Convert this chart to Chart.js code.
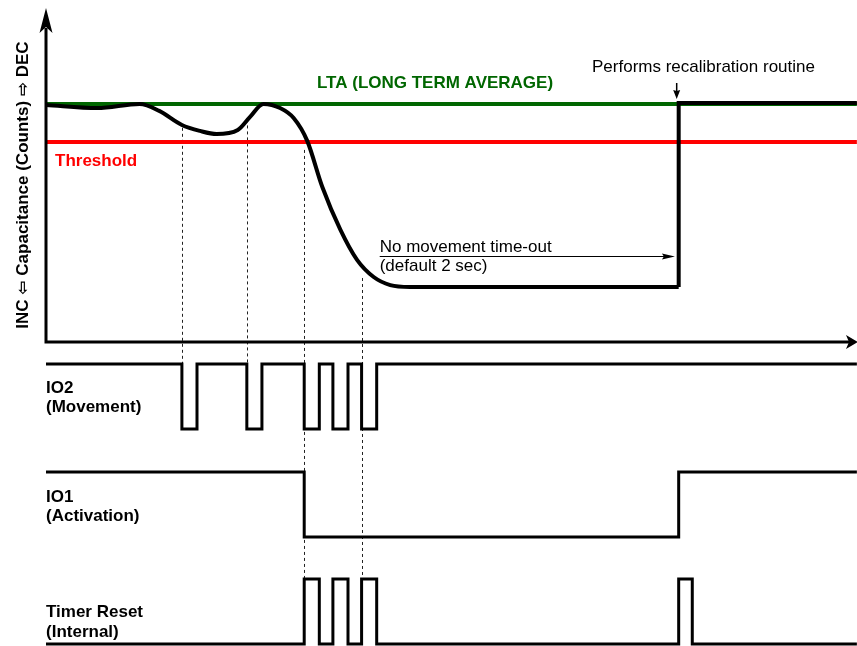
<!DOCTYPE html>
<html><head><meta charset="utf-8">
<script src="https://cdn.jsdelivr.net/npm/chart.js@4.4.1/dist/chart.umd.min.js"></script>
<style>html,body{margin:0;padding:0;background:#fff;}canvas{display:block;}</style>
</head><body>
<canvas id="c" width="857" height="646"></canvas>
<script>
// ---- data (time in seconds, t = 0 at the capacitance axis) ----
const curveTime   = [0, 0.34, 0.62, 0.75, 0.90, 1.02, 1.13, 1.27, 1.35, 1.44, 1.55, 1.64, 1.73, 1.83, 1.95, 2.06, 2.17, 2.28, 2.41, 4.19];
const curveCounts = [99.6, 98.3, 100.0, 97.1, 91.2, 88.7, 87.4, 89.1, 94.5, 100.0, 98.3, 94.1, 84.5, 65.1, 47.1, 34.5, 27.3, 23.9, 23.1, 23.1];
const recalTime = 4.19;
const recalCounts = 100.4;
const endTime = 5.37;
const ltaCounts = 100;
const thresholdCounts = 84;

const io2Times  = [0, 0.90, 1.00, 1.33, 1.43, 1.71, 1.81, 1.90, 2.00, 2.09, 2.19, 5.37];
const io2Levels = [1, 0, 1, 0, 1, 0, 1, 0, 1, 0, 1, 1];
const io1Times  = [0, 1.71, 4.19, 5.37];
const io1Levels = [1, 0, 1, 1];
const tmrTimes  = [0, 1.71, 1.81, 1.90, 2.00, 2.09, 2.19, 4.19, 4.28, 5.37];
const tmrLevels = [0, 1, 0, 1, 0, 1, 0, 1, 0, 0];

const guideTimes  = [0.90, 1.33, 1.71, 2.09];
const guideFrom   = [90, 91, 80.7, 26.9];
const guideTo     = ['io2', 'io2', 'tmr', 'tmr'];

const timeoutStart = 2.21;
const timeoutEnd = 4.165;

const yLabel = 'INC \u21E6 Capacitance (Counts) \u21E8 DEC';

// ---- layout helpers ----
const W = 857, H = 646;
function range(px0, v0, px1, v1) {
  const s = (px1 - px0) / (v1 - v0);
  return { min: v0 + (H - px0) / s, max: v0 + (0 - px0) / s };
}
const xr = { min: -46 / 151, max: (W - 46) / 151 };
const capR = range(342, 0, 104, 100);
const io2R = range(429, 0, 364, 1);
const io1R = range(537, 0, 472, 1);
const tmrR = range(644, 0, 579, 1);

const zip = (a, b) => a.map((v, i) => ({ x: v, y: b[i] }));

const FONT = '"Liberation Sans", Arial, "DejaVu Sans", sans-serif';

function arrowHead(ctx, tx, ty, dx, dy, len, hw, notch) {
  const px = -dy, py = dx;
  const bx = tx - dx * len, by = ty - dy * len;
  ctx.beginPath();
  ctx.moveTo(tx, ty);
  ctx.lineTo(bx + px * hw, by + py * hw);
  ctx.lineTo(tx - dx * (len - notch), ty - dy * (len - notch));
  ctx.lineTo(bx - px * hw, by - py * hw);
  ctx.closePath();
  ctx.fill();
}

const diagramPlugin = {
  id: 'diagram',
  beforeDatasetsDraw(chart) {
    const ctx = chart.ctx, s = chart.scales;
    ctx.save();
    ctx.strokeStyle = '#222';
    ctx.lineWidth = 1;
    ctx.setLineDash([3, 3]);
    guideTimes.forEach((t, i) => {
      const x = Math.round(s.x.getPixelForValue(t)) + 0.5;
      ctx.beginPath();
      ctx.moveTo(x, s.cap.getPixelForValue(guideFrom[i]));
      ctx.lineTo(x, s[guideTo[i]].getPixelForValue(1));
      ctx.stroke();
    });
    ctx.restore();
  },
  afterDatasetsDraw(chart) {
    const ctx = chart.ctx, s = chart.scales;
    const x0 = s.x.getPixelForValue(0);
    const y0 = s.cap.getPixelForValue(0);
    ctx.save();
    // axes
    ctx.strokeStyle = '#000';
    ctx.fillStyle = '#000';
    ctx.lineWidth = 3;
    ctx.setLineDash([]);
    ctx.beginPath();
    ctx.moveTo(x0, 28);
    ctx.lineTo(x0, y0);
    ctx.lineTo(W - 8, y0);
    ctx.stroke();
    arrowHead(ctx, x0, 8, 0, -1, 25, 6.5, 6);
    arrowHead(ctx, W + 1, y0, 1, 0, 12, 7, 3);

    // texts
    ctx.textBaseline = 'alphabetic';
    ctx.textAlign = 'left';
    const ltaY = s.cap.getPixelForValue(ltaCounts);
    const thrY = s.cap.getPixelForValue(thresholdCounts);
    ctx.font = 'bold 17px ' + FONT;
    ctx.fillStyle = '#006600';
    ctx.fillText('LTA (LONG TERM AVERAGE)', 317, ltaY - 16);
    ctx.fillStyle = '#ff0000';
    ctx.fillText('Threshold', x0 + 9, thrY + 24);

    ctx.fillStyle = '#000';
    ctx.fillText('IO2', x0, s.io2.getPixelForValue(1) + 29);
    ctx.fillText('(Movement)', x0, s.io2.getPixelForValue(1) + 48);
    ctx.fillText('IO1', x0, s.io1.getPixelForValue(1) + 30);
    ctx.fillText('(Activation)', x0, s.io1.getPixelForValue(1) + 49);
    ctx.fillText('Timer Reset', x0, s.tmr.getPixelForValue(1) + 38);
    ctx.fillText('(Internal)', x0, s.tmr.getPixelForValue(1) + 58);

    // y axis title
    ctx.save();
    ctx.translate(28, 185);
    ctx.rotate(-Math.PI / 2);
    ctx.textAlign = 'center';
    ctx.fillText(yLabel, 0, 0);
    ctx.restore();

    // recalibration annotation
    const rx = s.x.getPixelForValue(recalTime);
    ctx.font = '17px ' + FONT;
    ctx.fillText('Performs recalibration routine', 592, 72);
    ctx.lineWidth = 1.5;
    ctx.beginPath();
    ctx.moveTo(rx - 2, 83);
    ctx.lineTo(rx - 2, 96);
    ctx.stroke();
    arrowHead(ctx, rx - 2, 99, 0, 1, 9, 3.5, 1);

    // timeout annotation
    const ax0 = s.x.getPixelForValue(timeoutStart);
    const ax1 = s.x.getPixelForValue(timeoutEnd);
    const ay = 256.5;
    ctx.lineWidth = 1;
    ctx.beginPath();
    ctx.moveTo(ax0, ay);
    ctx.lineTo(ax1 - 8, ay);
    ctx.stroke();
    arrowHead(ctx, ax1, ay, 1, 0, 13, 3, 2);
    ctx.fillText('No movement time-out', ax0, ay - 5);
    ctx.fillText('(default 2 sec)', ax0, ay + 14.5);
    ctx.restore();
  }
};

const common = { pointRadius: 0, fill: false, borderJoinStyle: 'miter', borderCapStyle: 'butt' };

new Chart(document.getElementById('c'), {
  type: 'scatter',
  data: {
    datasets: [
      Object.assign({}, common, { data: zip(curveTime, curveCounts), yAxisID: 'cap', showLine: true, borderColor: '#000', borderWidth: 4, cubicInterpolationMode: 'monotone', order: 0 }),
      Object.assign({}, common, { data: [{x: recalTime, y: curveCounts[curveCounts.length - 1]}, {x: recalTime, y: recalCounts}, {x: endTime, y: recalCounts}], yAxisID: 'cap', showLine: true, borderColor: '#000', borderWidth: 4, order: 0 }),
      Object.assign({}, common, { data: [{x: 0, y: ltaCounts}, {x: endTime, y: ltaCounts}], yAxisID: 'cap', showLine: true, borderColor: '#006600', borderWidth: 4, order: 2 }),
      Object.assign({}, common, { data: [{x: 0, y: thresholdCounts}, {x: endTime, y: thresholdCounts}], yAxisID: 'cap', showLine: true, borderColor: '#ff0000', borderWidth: 4, order: 2 }),
      Object.assign({}, common, { data: zip(io2Times, io2Levels), yAxisID: 'io2', showLine: true, stepped: true, borderColor: '#000', borderWidth: 3, order: 1 }),
      Object.assign({}, common, { data: zip(io1Times, io1Levels), yAxisID: 'io1', showLine: true, stepped: true, borderColor: '#000', borderWidth: 3, order: 1 }),
      Object.assign({}, common, { data: zip(tmrTimes, tmrLevels), yAxisID: 'tmr', showLine: true, stepped: true, borderColor: '#000', borderWidth: 3, order: 1 })
    ]
  },
  options: {
    responsive: false,
    animation: false,
    devicePixelRatio: 1,
    layout: { padding: 0 },
    plugins: { legend: { display: false }, tooltip: { enabled: false } },
    events: [],
    scales: {
      x: { type: 'linear', display: false, min: xr.min, max: xr.max },
      cap: { type: 'linear', display: false, min: capR.min, max: capR.max },
      io2: { type: 'linear', display: false, min: io2R.min, max: io2R.max },
      io1: { type: 'linear', display: false, min: io1R.min, max: io1R.max },
      tmr: { type: 'linear', display: false, min: tmrR.min, max: tmrR.max }
    }
  },
  plugins: [diagramPlugin]
});
</script>
</body></html>
